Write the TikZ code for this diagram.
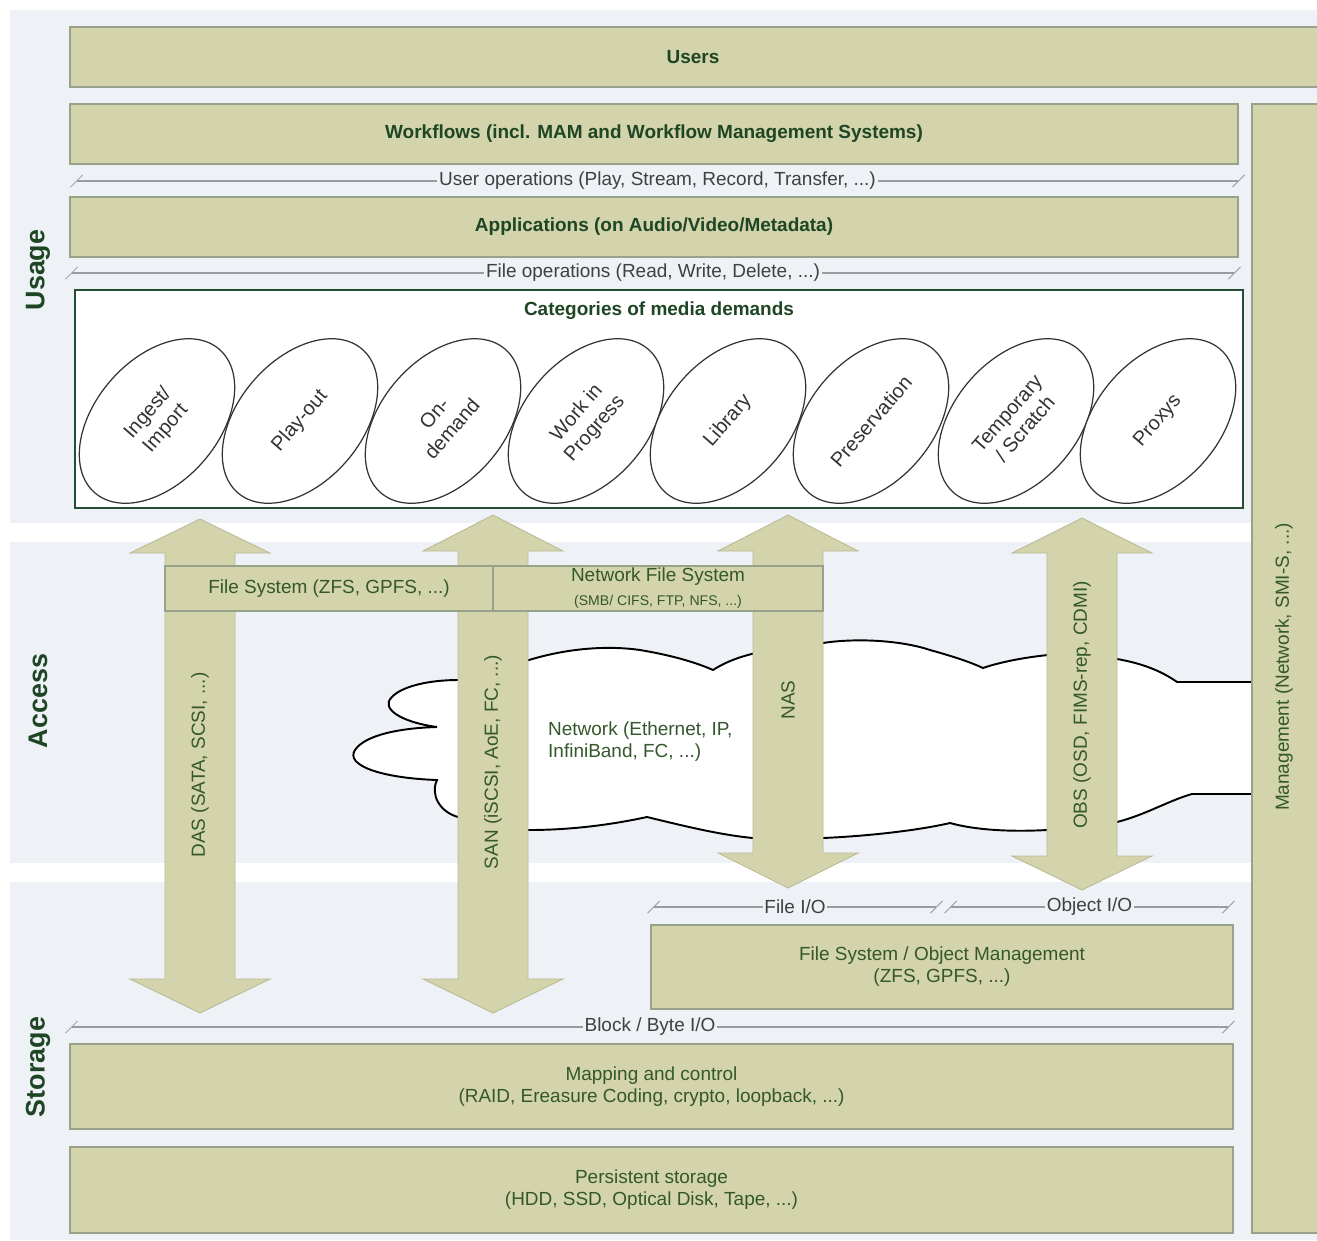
\documentclass[tikz,border=0pt]{standalone}
\usepackage{fontspec}
\setmainfont{Liberation Sans}
\usetikzlibrary{arrows.meta, fit, shapes.geometric}

\definecolor{panel}{RGB}{238,241,246}
\definecolor{khaki}{RGB}{211,211,172}
\definecolor{boxedge}{RGB}{152,162,138}
\definecolor{arrowedge}{RGB}{186,186,152}
\definecolor{txtgreen}{RGB}{52,88,44}
\definecolor{darkgreen}{RGB}{30,70,36}
\definecolor{catedge}{RGB}{38,78,50}
\definecolor{sepgray}{RGB}{150,156,162}
\definecolor{septext}{RGB}{62,66,62}

\begin{document}
\begin{tikzpicture}[x = 0.02cm, y = -0.02cm,
                    every node/.style = {font = \fontsize{10.8}{12.6}\selectfont, text = txtgreen},
                    layerbox/.style = {draw = boxedge, fill = khaki, line width = .6pt, inner sep = 0pt},
                    title/.style = {font = \fontsize{10.8}{12.6}\selectfont\bfseries, text = darkgreen},
                    boxtext/.style = {align = center, inner sep = 0pt},
                    sidelabel/.style = {font = \fontsize{15.3}{18}\selectfont\bfseries, text = darkgreen, rotate = 90},
                    sepline/.style = {draw = sepgray, line width = .7pt,
                                      {Bar[width = 7pt, slant = 1]}-{Bar[width = 7pt, slant = 1]}},
                    seplabel/.style = {fill = panel, inner sep = 1pt, text = septext},
                    demand/.style = {draw = black!80, line width = .7pt, ellipse, fill = white,
                                     minimum width = 3.8cm, minimum height = 2.46cm,
                                     font = \fontsize{11.4}{13.4}\selectfont,
                                     inner sep = 0pt, align = center, text = black!80, rotate = 49},
                    biarrow/.style = {fill = khaki, draw = arrowedge, line width = .5pt},
                    cloudline/.style = {draw = black, line width = 1.1pt, fill = white}
                   ]
     \useasboundingbox (0,0) rectangle (1317,1240);

     % bands
     \fill[white] (0,0) rectangle (1317,1240);
     \fill[panel] (10,10) rectangle (1317,523);
     \fill[panel] (10,542) rectangle (1317,863);
     \fill[panel] (10,882) rectangle (1317,1240);

     \node (usage) [sidelabel] at (38,270) {Usage};
     \node (access) [sidelabel] at (38,701) {Access};
     \node (storage) [sidelabel] at (38,1067) {Storage};

     % usage layer
     \node (users) [layerbox, fit = {(70,27) (1322,87)}] {};
     \node (userstxt) [title] at (693,57) {Users};
     \node (workflows) [layerbox, fit = {(70,104) (1238,164)},
                        label = {[title, boxtext]center:Workflows (incl. MAM and Workflow Management Systems)}] {};
     \node (apps) [layerbox, fit = {(70,197) (1238,257)},
                   label = {[title, boxtext]center:Applications (on Audio/Video/Metadata)}] {};

     \coordinate (uo west) at (76,181);
     \coordinate (uo east) at (1239,181);
     \draw[sepline] (uo west) -- node[seplabel] (userops) {User operations (Play, Stream, Record, Transfer, ...)} (uo east);
     \coordinate (fo west) at (71,273);
     \coordinate (fo east) at (1235,273);
     \draw[sepline] (fo west) -- node[seplabel] (fileops) {File operations (Read, Write, Delete, ...)} (fo east);

     \node (categories) [fit = {(75,290) (1243,508)}, draw = catedge, line width = 1.5pt, fill = white, inner sep = 0pt] {};
     \node (cattitle) [title] at (659,311) {Categories of media demands};

     \node (ingest) [demand] at (157,421) {Ingest/\\Import};
     \node (playout) [demand] at (300,421) {Play-out};
     \node (ondemand) [demand] at (443,421) {On-\\demand};
     \node (wip) [demand] at (586,421) {Work in\\Progress};
     \node (library) [demand] at (728,421) {Library};
     \node (preservation) [demand] at (871,421) {Preservation};
     \node (scratch) [demand] at (1016,421) {Temporary\\/ Scratch};
     \node (proxys) [demand] at (1158,421) {Proxys};

     % access layer
     \draw[cloudline] (458,680) .. controls (485,671) and (510,664) .. (529,660)
                      .. controls (565,649) and (605,645) .. (640,650)
                      .. controls (670,655) and (695,662) .. (713,670)
                      .. controls (727,661) and (742,656) .. (760,652)
                      .. controls (790,646) and (810,644) .. (823,643)
                      .. controls (855,638) and (900,640) .. (930,650)
                      .. controls (955,657) and (970,662) .. (983,668)
                      .. controls (1000,662) and (1030,656) .. (1060,654)
                      .. controls (1085,653) and (1105,656) .. (1117,659)
                      .. controls (1140,663) and (1160,670) .. (1177,682)
                      -- (1262,682) -- (1262,794) -- (1192,794)
                      .. controls (1170,800) and (1145,815) .. (1117,822)
                      .. controls (1095,827) and (1070,830) .. (1047,830)
                      .. controls (1010,832) and (975,830) .. (950,823)
                      .. controls (920,830) and (870,836) .. (823,838)
                      .. controls (800,839) and (775,839) .. (753,838)
                      .. controls (720,835) and (680,825) .. (647,817)
                      .. controls (610,825) and (570,830) .. (529,830)
                      .. controls (505,830) and (480,823) .. (458,817)
                      .. controls (440,812) and (430,795) .. (437,780)
                      .. controls (380,778) and (345,765) .. (355,750)
                      .. controls (365,735) and (400,728) .. (437,727)
                      .. controls (400,722) and (380,708) .. (392,697)
                      .. controls (402,686) and (430,680) .. (458,680) -- cycle;
     \node (network) [anchor = west, align = left] at (542,742) {Network (Ethernet, IP,\\InfiniBand, FC, ...)};

     \draw[biarrow] (200,519) -- (270,553) -- (235,553) -- (235,979) -- (270,979) -- (200,1013)
                    -- (130,979) -- (165,979) -- (165,553) -- (130,553) -- cycle;
     \draw[biarrow] (493,515) -- (563,551) -- (528,551) -- (528,979) -- (563,979) -- (493,1013)
                    -- (423,979) -- (458,979) -- (458,551) -- (423,551) -- cycle;
     \draw[biarrow] (788,515) -- (858,551) -- (823,551) -- (823,853) -- (858,853) -- (788,888)
                    -- (718,853) -- (753,853) -- (753,551) -- (718,551) -- cycle;
     \draw[biarrow] (1082,518) -- (1152,553) -- (1117,553) -- (1117,856) -- (1152,856) -- (1082,890)
                    -- (1012,856) -- (1047,856) -- (1047,553) -- (1012,553) -- cycle;

     \node (fsbar) [layerbox, fit = {(165,566) (493,611)},
                    label = {[boxtext]center:File System (ZFS, GPFS, ...)}] {};
     \node (nfsbar) [layerbox, fit = {(493,566) (823,611)},
                     label = {[boxtext]center:Network File System\\[1pt]{\fontsize{8}{9}\selectfont (SMB/ CIFS, FTP, NFS, ...)}}] {};

     \node (das) [rotate = 90] at (200,765) {DAS (SATA, SCSI, ...)};
     \node (san) [rotate = 90] at (493,762) {SAN (iSCSI, AoE, FC, ...)};
     \node (nas) [rotate = 90] at (788,700) {NAS};
     \node (obs) [rotate = 90] at (1082,705) {OBS (OSD, FIMS-rep, CDMI)};

     % management
     \node (mgmt) [layerbox, fit = {(1252,104) (1322,1233)}] {};
     \node (mgmttxt) [rotate = 90] at (1284,667) {Management (Network, SMI-S, ...)};

     % storage layer
     \coordinate (fio west) at (653,907);
     \coordinate (fio east) at (937,907);
     \draw[sepline] (fio west) -- node[seplabel] (fileio) {File I/O} (fio east);
     \coordinate (oio west) at (950,907);
     \coordinate (oio east) at (1229,907);
     \draw[sepline] (oio west) -- node[seplabel] (objectio) {Object I/O} (oio east);

     \node (fsobj) [layerbox, fit = {(651,925) (1233,1009)},
                    label = {[boxtext]center:File System / Object Management\\(ZFS, GPFS, ...)}] {};

     \coordinate (bio west) at (71,1027);
     \coordinate (bio east) at (1229,1027);
     \draw[sepline] (bio west) -- node[seplabel] (blockio) {Block / Byte I/O} (bio east);

     \node (mapping) [layerbox, fit = {(70,1044) (1233,1129)},
                      label = {[boxtext]center:Mapping and control\\(RAID, Ereasure Coding, crypto, loopback, ...)}] {};
     \node (persistent) [layerbox, fit = {(70,1147) (1233,1233)},
                         label = {[boxtext]center:Persistent storage\\(HDD, SSD, Optical Disk, Tape, ...)}] {};

   \end{tikzpicture}
\end{document}
